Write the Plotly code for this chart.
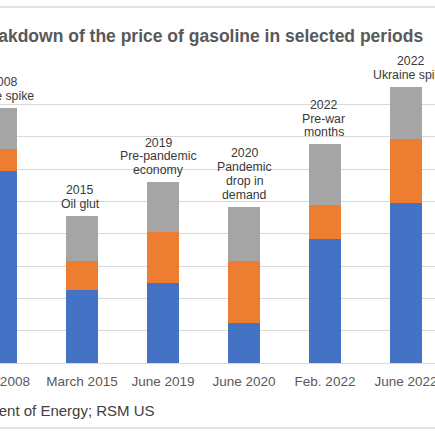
import plotly.graph_objects as go

# periods (x categories)
periods = ["July 2008", "March 2015", "June 2019", "June 2020", "Feb. 2022", "June 2022"]

# components of the price, $ per gallon
crude = [2.97, 1.13, 1.24, 0.62, 1.92, 2.48]
refining = [0.34, 0.45, 0.78, 0.95, 0.53, 0.98]
other = [0.64, 0.70, 0.78, 0.85, 0.93, 0.81]

# text above each bar, one entry per line
notes = [
    ["2008", "Price spike"],
    ["2015", "Oil glut"],
    ["2019", "Pre-pandemic", "economy"],
    ["2020", "Pandemic", "drop in", "demand"],
    ["2022", "Pre-war", "months"],
    ["2022", "Ukraine spike"],
]

title_txt = "Breakdown of the price of gasoline in selected periods"
source_txt = "Source: U.S. Department of Energy; RSM US"

FONT = "Liberation Sans, Arial, sans-serif"
H = 435
top, bottom = 72, 72
ph = H - top - bottom


def py(px):
    # pixel row from the top -> paper y
    return (H - bottom - px) / ph


fig = go.Figure()
for name, vals, col in [("Crude oil", crude, "#4472C4"),
                        ("Refining", refining, "#ED7D31"),
                        ("Distribution, marketing and taxes", other, "#A5A5A5")]:
    fig.add_trace(go.Bar(x=periods, y=vals, name=name, marker_color=col,
                         marker_line_width=0, width=0.395))

# the text boxes are not quite centred over their bars in the original
nudge = [2.5, -1.7, -4.3, 0.5, -1.3, 4.5]

totals = [a + b + c for a, b, c in zip(crude, refining, other)]
anns = []
for p, t, lines, dx in zip(periods, totals, notes, nudge):
    n = len(lines)
    for j, ln in enumerate(lines):
        anns.append(dict(x=p, y=t, xref="x", yref="y", text=ln, showarrow=False,
                         yanchor="bottom", yshift=3 + (n - 1 - j) * 13.7, xshift=dx,
                         font=dict(family=FONT, size=12.3, color="#3a3a3a")))

anns.append(dict(x=425 / 435, y=py(36), xref="paper", yref="paper", text="<b>" + title_txt + "</b>",
                 showarrow=False, xanchor="right", yanchor="middle",
                 font=dict(family=FONT, size=17.5, color="#595959")))
anns.append(dict(x=157 / 435, y=py(410), xref="paper", yref="paper", text=source_txt,
                 showarrow=False, xanchor="right", yanchor="middle",
                 font=dict(family=FONT, size=15, color="#404040")))

shapes = [dict(type="line", xref="paper", yref="paper", x0=0, x1=1, y0=py(yy), y1=py(yy),
               line=dict(color="#D9D9D9", width=1.3)) for yy in (7, 428)]

fig.update_layout(
    barmode="stack", width=435, height=435, showlegend=False,
    margin=dict(l=0, r=0, t=top, b=bottom, pad=0),
    plot_bgcolor="white", paper_bgcolor="white",
    annotations=anns, shapes=shapes,
    xaxis=dict(range=[-0.0123, 5.358], automargin=False, showgrid=False, showline=True,
               linecolor="#D9D9D9", linewidth=1.3, ticks="", ticklabelstandoff=6,
               tickfont=dict(family=FONT, size=13.5, color="#595959")),
    yaxis=dict(range=[0, 4.5], dtick=0.5, automargin=False, showgrid=True, gridcolor="#D9D9D9",
               gridwidth=1.3, zeroline=False, showticklabels=False),
)
fig.write_html("out.html", config={"displayModeBar": False},
               post_script="document.body.style.margin='0';")
